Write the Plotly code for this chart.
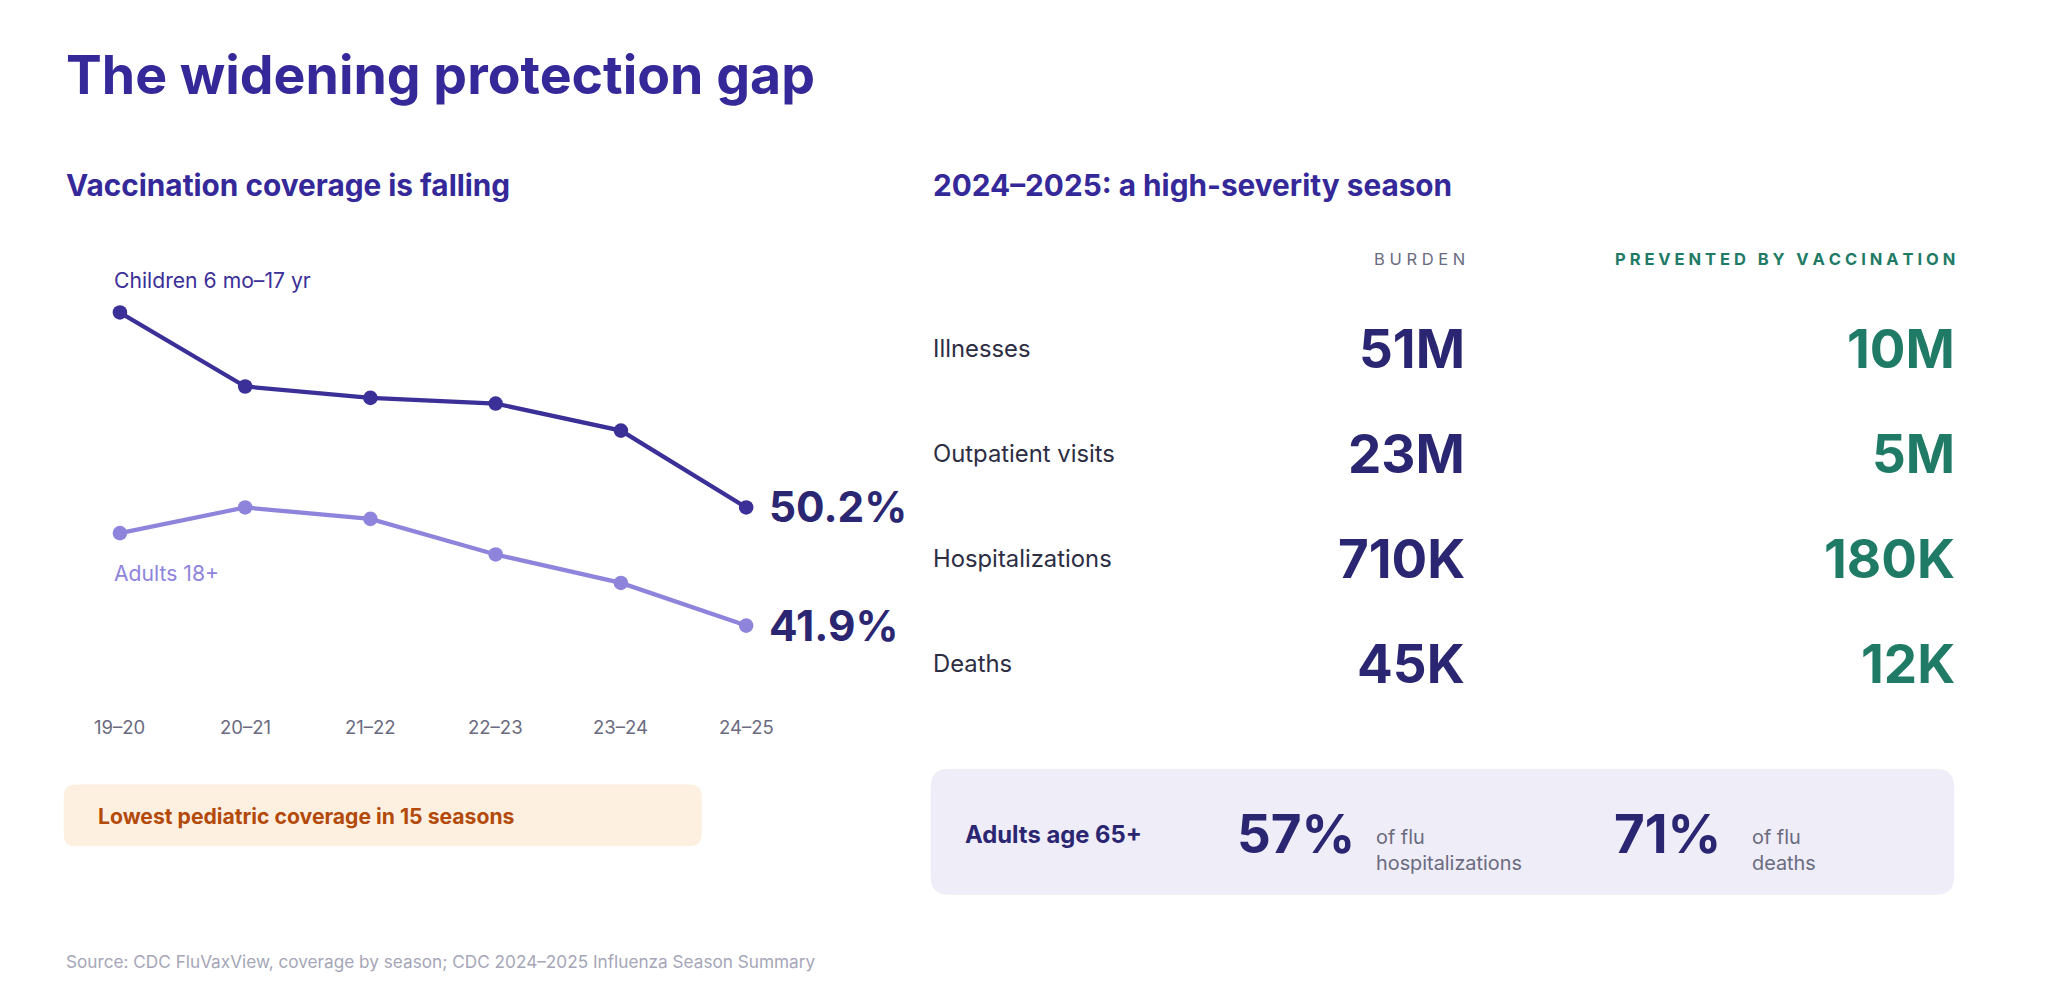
import plotly.graph_objects as go

seasons = ["19–20", "20–21", "21–22", "22–23", "23–24", "24–25"]
children = [63.9, 58.7, 57.9, 57.5, 55.6, 50.2]
adults = [48.4, 50.2, 49.4, 46.9, 44.9, 41.9]

rows = ["Illnesses", "Outpatient visits", "Hospitalizations", "Deaths"]
burden = ["51M", "23M", "710K", "45K"]
prevented = ["10M", "5M", "180K", "12K"]

W, H = 1545.0, 755.0
S = 2045 / W
def X(p): return ((p - 9.4) / 1.0124) / W
def Y(p): return 1 - ((p - 9.5) / 1.009) / H
def F(s): return s * S

DARK = "#3b2f98"; LIGHT = "#8e84dc"; NUM = "#2b2672"; GREEN = "#1f7a66"
FONT = "Inter"

fig = go.Figure()
fig.add_trace(go.Scatter(x=list(range(6)), y=children, mode="lines+markers",
    line=dict(color=DARK, width=F(3.2)), marker=dict(size=F(11), color=DARK), cliponaxis=False))
fig.add_trace(go.Scatter(x=list(range(6)), y=adults, mode="lines+markers",
    line=dict(color=LIGHT, width=F(3.2)), marker=dict(size=F(11), color=LIGHT), cliponaxis=False))

ylo, yhi = 40, 65
ppt = 90 / 8.3
py_hi = 390 - (yhi - 50.2) * ppt
py_lo = 480 + (41.9 - ylo) * ppt

ann = []
def A(x, y, text, size, color, xanchor="left", bold=False, **kw):
    ann.append(dict(x=X(x), y=Y(y), xref="paper", yref="paper", text=f"<b>{text}</b>" if bold else text,
                    showarrow=False, xanchor=xanchor, yanchor="middle",
                    font=dict(family=FONT, size=F(size), color=color), **kw))

A(52, 60, "The widening protection gap", 40.5, "#35299a", bold=True)
A(52, 144, "Vaccination coverage is falling", 22.5, "#35299a", bold=True)
A(715, 144, "2024–2025: a high-severity season", 22.5, "#35299a", bold=True)
A(89, 217, "Children 6 mo–17 yr", 16, DARK)
A(89, 440, "Adults 18+", 16, LIGHT)
A(590, 389, "50.2%", 32, NUM, bold=True)
A(590, 480, "41.9%", 32, NUM, bold=True)
for i, s in enumerate(seasons):
    ann.append(dict(x=i, y=Y(557), xref="x", yref="paper", text=s, showarrow=False,
                    xanchor="center", yanchor="middle", font=dict(family=FONT, size=F(14), color="#6b6b80")))
A(77, 625, "Lowest pediatric coverage in 15 seasons", 16, "#b34a0a", bold=True)

A(1125, 201, "B U R D E N", 12.5, "#6b6b80", xanchor="right")
A(1500, 201, "<b>P R E V E N T E D   B Y   V A C C I N A T I O N</b>", 12.5, GREEN, xanchor="right")
for i, r in enumerate(rows):
    yy = 269 + 80 * i
    A(715, yy, r, 18, "#2d2d44")
    A(1125, yy, burden[i], 40, NUM, xanchor="right", bold=True)
    A(1500, yy, prevented[i], 40, GREEN, xanchor="right", bold=True)

A(740, 639, "Adults age 65+", 18, NUM, bold=True)
A(948, 639, "57%", 40, NUM, bold=True)
A(1054, 651, "of flu<br>hospitalizations", 15, "#6b6b80", align="left")
A(1236, 639, "71%", 40, NUM, bold=True)
A(1342, 651, "of flu<br>deaths", 15, "#6b6b80", align="left")
A(52, 736, "Source: CDC FluVaxView, coverage by season; CDC 2024–2025 Influenza Season Summary", 13, "#a6a6b8")

def rrect(x0, y0, x1, y1, r, color):
    x0, x1 = X(x0), X(x1); y0, y1 = Y(y0), Y(y1)
    rx, ry = r / W, r / H
    path = (f"M{x0+rx},{y0} L{x1-rx},{y0} Q{x1},{y0} {x1},{y0-ry} L{x1},{y1+ry} Q{x1},{y1} {x1-rx},{y1} "
            f"L{x0+rx},{y1} Q{x0},{y1} {x0},{y1+ry} L{x0},{y0-ry} Q{x0},{y0} {x0+rx},{y0} Z")
    return dict(type="path", path=path, xref="paper", yref="paper", fillcolor=color, line=dict(width=0), layer="below")

shapes = [rrect(52, 601, 540, 648, 9, "#fdf0e1"), rrect(715, 589, 1498, 685, 14, "#efedf8")]

fig.update_layout(
    width=2045, height=1000, paper_bgcolor="white", plot_bgcolor="white",
    margin=dict(l=0, r=0, t=0, b=0), showlegend=False,
    xaxis=dict(domain=[X(95), X(574)], range=[0, 5], visible=False),
    yaxis=dict(domain=[Y(py_lo), Y(py_hi)], range=[ylo, yhi], visible=False),
    annotations=ann, shapes=shapes,
)
fig.write_html("out.html")
